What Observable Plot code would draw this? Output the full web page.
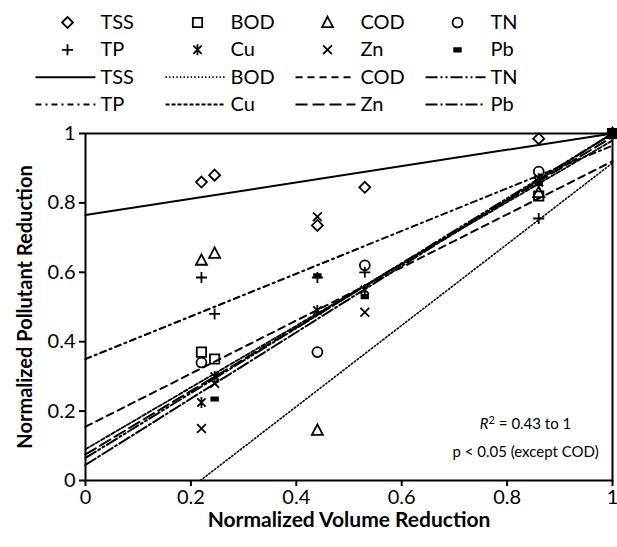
<!DOCTYPE html>
<html><head><meta charset="utf-8">
<script src="https://cdn.jsdelivr.net/npm/d3@7"></script>
<script src="https://cdn.jsdelivr.net/npm/@observablehq/plot@0.6"></script>
<style>body{margin:0;background:#fff} svg{display:block}</style>
</head><body><div id="legend"></div><div id="chart"></div>
<script>
// ---- data ----
const series = ["TSS", "BOD", "COD", "TN", "TP", "Cu", "Zn", "Pb"];
const volume = [0.22, 0.245, 0.44, 0.53, 0.86, 1];
const TSS = [0.86, 0.88, 0.735, 0.845, 0.985, 1];
const BOD = [0.37, 0.35, null, null, 0.82, 1];
const COD = [0.635, 0.655, 0.145, null, 0.83, 1];
const TN  = [0.34, null, 0.37, 0.62, 0.89, 1];
const TP  = [0.585, 0.48, 0.585, 0.60, 0.755, 1];
const Cu  = [0.225, 0.30, 0.49, 0.55, 0.87, 1];
const Zn  = [0.15, 0.28, 0.76, 0.485, 0.86, 1];
const Pb  = [null, 0.235, 0.59, 0.53, 0.855, 1];
// fitted line values at x = 0 and x = 1
const fitAtZero = [0.765, -0.255, 0.155, 0.065, 0.35, 0.09, 0.075, 0.045];
const fitAtOne  = [1.0, 0.915, 0.92, 1.0, 0.965, 0.98, 0.99, 1.0];
const xTicks = [0, 0.2, 0.4, 0.6, 0.8, 1];
const yTicks = [0, 0.2, 0.4, 0.6, 0.8, 1];
const annotation = ["R² = 0.43 to 1", "p < 0.05 (except COD)"];
const xLabel = "Normalized Volume Reduction";
const yLabel = "Normalized Pollutant Reduction";

const values = {TSS, BOD, COD, TN, TP, Cu, Zn, Pb};

// ---- styles ----
function sym(fn) { return {draw(c, size) { fn(c, Math.sqrt(size / Math.PI)); }}; }
const symbols = {
  TSS: sym((c, r) => { c.moveTo(0, -r); c.lineTo(r, 0); c.lineTo(0, r); c.lineTo(-r, 0); c.closePath(); }),
  BOD: sym((c, r) => { const s = r * 0.85; c.rect(-s, -s, 2 * s, 2 * s); }),
  COD: sym((c, r) => { const h = r * 1.05; c.moveTo(0, -h); c.lineTo(h * 0.95, h * 0.8); c.lineTo(-h * 0.95, h * 0.8); c.closePath(); }),
  TN:  sym((c, r) => { const s = r * 0.9; c.moveTo(s, 0); c.arc(0, 0, s, 0, 2 * Math.PI); }),
  TP:  sym((c, r) => { c.moveTo(-r, 0); c.lineTo(r, 0); c.moveTo(0, -r); c.lineTo(0, r); }),
  Cu:  sym((c, r) => { const s = r * 0.75; c.moveTo(-s, -s); c.lineTo(s, s); c.moveTo(s, -s); c.lineTo(-s, s); c.moveTo(0, -r); c.lineTo(0, r); }),
  Zn:  sym((c, r) => { const s = r * 0.8; c.moveTo(-s, -s); c.lineTo(s, s); c.moveTo(s, -s); c.lineTo(-s, s); }),
  Pb:  sym((c, r) => { c.rect(-r * 0.6, -r * 0.3, r * 1.2, r * 0.6); })
};
const dashes = {
  TSS: null, BOD: "1.4,2.2", COD: "7,5", TN: "12,3,2,3,2,3",
  TP: "6,4,2,4", Cu: "4,2", Zn: "12,5", Pb: "12,3,2,3"
};
const widths = {TSS: 2, BOD: 1.6, COD: 2, TN: 2, TP: 2, Cu: 1.8, Zn: 2, Pb: 2};
const font = "Lato, 'Open Sans', sans-serif";

// ---- legend ----
const legendData = series.map((s, i) => ({s, col: i % 4, symRow: Math.floor(i / 4), lineRow: 2 + Math.floor(i / 4)}));
const legend = Plot.plot({
  width: 617, height: 120,
  x: {domain: [0, 3], range: [67, 457], axis: null},
  y: {domain: [0, 3], range: [22, 104], axis: null},
  style: {fontFamily: font, fontSize: "20px", color: "black", background: "white"},
  marks: [
    ...legendData.map(d => Plot.dot([d], {x: "col", y: "symRow", symbol: symbols[d.s], r: 5.5,
      stroke: "black", strokeWidth: 1.8, fill: d.s === "Pb" ? "black" : "none"})),
    ...legendData.map(d => Plot.link([d], {x1: v => v.col - 0.246, x2: v => v.col + 0.215, y1: "lineRow", y2: "lineRow",
      stroke: "black", strokeWidth: widths[d.s], strokeDasharray: dashes[d.s]})),
    Plot.text(legendData, {x: "col", y: "symRow", text: "s", dx: 33, textAnchor: "start", fill: "black"}),
    Plot.text(legendData, {x: "col", y: "lineRow", text: "s", dx: 33, textAnchor: "start", fill: "black"})
  ]
});
document.getElementById("legend").append(legend);

// ---- chart ----
const fitLines = series.map((s, i) => {
  const a = fitAtZero[i], b = fitAtOne[i] - fitAtZero[i];
  const x0 = a < 0 ? -a / b : 0;
  return {s, pts: [{x: x0, y: a + b * x0}, {x: 1, y: a + b}]};
});
const pointSets = series.map(s => ({s, pts: volume.map((x, j) => ({x, y: values[s][j]})).filter(d => d.y != null)}));

const chart = Plot.plot({
  width: 617, height: 427,
  marginTop: 13, marginBottom: 67, marginLeft: 85, marginRight: 5,
  x: {domain: [0, 1]},
  y: {domain: [0, 1]},
  style: {fontFamily: font, fontSize: "20px", color: "black", background: "white"},
  marks: [
    ...fitLines.map(l => Plot.line(l.pts, {x: "x", y: "y", stroke: "black", strokeWidth: widths[l.s], strokeDasharray: dashes[l.s]})),
    ...pointSets.map(p => Plot.dot(p.pts, {x: "x", y: "y", symbol: symbols[p.s], r: 5.5,
      stroke: "black", strokeWidth: 1.8, fill: p.s === "Pb" ? "black" : "none"})),
    Plot.frame({stroke: "black", strokeWidth: 2}),
    Plot.axisX({ticks: xTicks, tickSize: 6, tickPadding: 3, tickFormat: d => String(d), label: null, strokeWidth: 2}),
    Plot.axisY({ticks: yTicks, tickSize: 6, tickPadding: 4, tickFormat: d => String(d), label: null, strokeWidth: 2}),
    Plot.text([annotation[0]], {x: 0.835, y: 0.161, text: d => d, fontSize: 15, fill: "black"}),
    Plot.text([annotation[1]], {x: 0.835, y: 0.081, text: d => d, fontSize: 15, fill: "black"}),
    Plot.text([xLabel], {frameAnchor: "bottom", dy: 46, text: d => d, fontWeight: "bold", fontSize: 21, fill: "black"}),
    Plot.text([yLabel], {frameAnchor: "left", dx: -60, rotate: -90, textAnchor: "middle", text: d => d, fontWeight: "bold", fontSize: 20, fill: "black"})
  ]
});
document.getElementById("chart").append(chart);

// italic R and raised 2 in the annotation
d3.select(chart).selectAll("text").each(function () {
  const t = this.textContent;
  if (t.startsWith("R²")) {
    const sel = d3.select(this);
    sel.text(null);
    sel.append("tspan").attr("font-style", "italic").text("R");
    sel.append("tspan").attr("font-size", 11).attr("dy", "-0.45em").text("2");
    sel.append("tspan").attr("dy", "0.3em").text(t.slice(2));
  }
});
</script>
</body></html>
